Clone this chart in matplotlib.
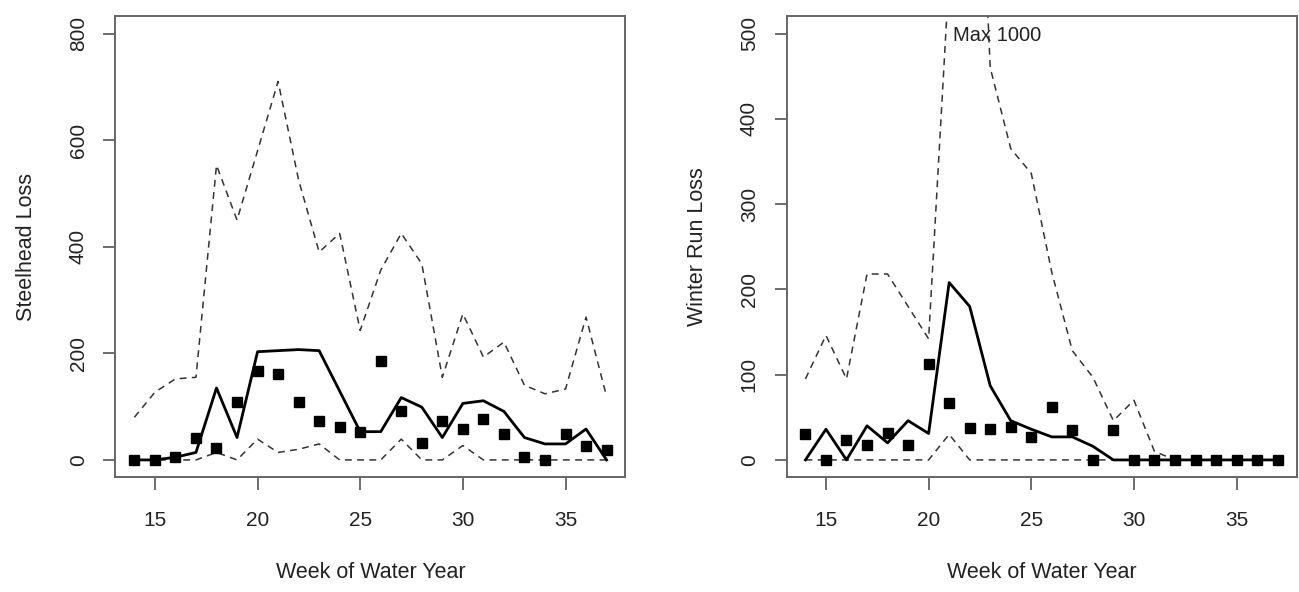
import matplotlib.pyplot as plt
import numpy as np

plt.rcParams['font.family'] = ['Liberation Sans', 'DejaVu Sans']

# week of water year
weeks = np.arange(14, 38)

# steelhead loss: upper/lower bounds (dashed), median (solid), observed (squares)
sh_upper = [80, 127, 152, 155, 553, 450, 580, 710, 525, 390, 425, 243,
            356, 425, 368, 155, 274, 193, 221, 140, 124, 133, 268, 119]
sh_median = [0, 0, 5, 14, 135, 42, 203, 205, 207, 205, 129, 53,
             53, 117, 99, 42, 106, 111, 91, 42, 30, 30, 58, 0]
sh_lower = [0, 0, 0, 0, 14, 0, 39, 14, 20, 30, 0, 0,
            0, 39, 0, 0, 27, 0, 0, 0, 0, 0, 0, 0]
sh_obs = [0, 0, 5, 42, 22, 108, 167, 162, 108, 73, 61, 53,
          185, 91, 31, 73, 58, 76, 48, 6, 0, 48, 27, 19]

# winter run loss
wr_upper = [95, 146, 95, 218, 218, 180, 142, 570, 1000, 460, 365, 336,
            220, 128, 97, 46, 70, 10, 0, 0, 0, 0, 0, 0]
wr_median = [0, 36, 0, 40, 20, 46, 31, 208, 180, 87, 46, 36,
             27, 27, 16, 0, 0, 0, 0, 0, 0, 0, 0, 0]
wr_lower = [0, 0, 0, 0, 0, 0, 0, 30, 0, 0, 0, 0,
            0, 0, 0, 0, 0, 0, 0, 0, 0, 0, 0, 0]
wr_obs = [30, 0, 23, 18, 32, 18, 112, 67, 38, 36, 39, 27,
          62, 35, 0, 35, 0, 0, 0, 0, 0, 0, 0, 0]

fig = plt.figure(figsize=(12.99, 5.92), dpi=100)
ax1 = fig.add_axes([0.0889, 0.1943, 0.3926, 0.7779])
ax2 = fig.add_axes([0.6055, 0.1943, 0.3926, 0.7779])

txt = '#222222'


def panel(ax, upper, median, lower, obs, ymax, ystep, ylabel):
    ax.plot(weeks, upper, color='#333333', lw=1.1, dashes=(4.5, 3.5))
    ax.plot(weeks, lower, color='#333333', lw=1.1, dashes=(4.5, 3.5))
    ax.plot(weeks, median, color='black', lw=2.0)
    ax.plot(weeks, obs, 's', color='black', ms=7, zorder=5)
    ax.set_xlim(13.08, 37.92)
    ax.set_ylim(-0.04 * ymax, 1.04 * ymax)
    ax.set_xticks([15, 20, 25, 30, 35])
    ax.set_yticks(np.arange(0, ymax + 1, ystep))
    ax.tick_params(length=9, width=1.2, color='#555555', labelsize=15,
                   labelcolor=txt)
    ax.tick_params(axis='x', pad=15.5)
    ax.tick_params(axis='y', pad=11)
    for lab in ax.get_yticklabels():
        lab.set_rotation(90)
        lab.set_va('center')
    for s in ax.spines.values():
        s.set_color('#666666')
        s.set_linewidth(1.4)
    ax.set_xlabel('Week of Water Year', fontsize=15.5, color=txt, labelpad=23)
    ax.set_ylabel(ylabel, fontsize=15.5, color=txt, labelpad=23)


panel(ax1, sh_upper, sh_median, sh_lower, sh_obs, 800, 200, 'Steelhead Loss')
panel(ax2, wr_upper, wr_median, wr_lower, wr_obs, 500, 100, 'Winter Run Loss')

ax2.text(21.2, 498, 'Max 1000', fontsize=14.5, color=txt, ha='left', va='center')

plt.savefig('out.png', dpi=100)
